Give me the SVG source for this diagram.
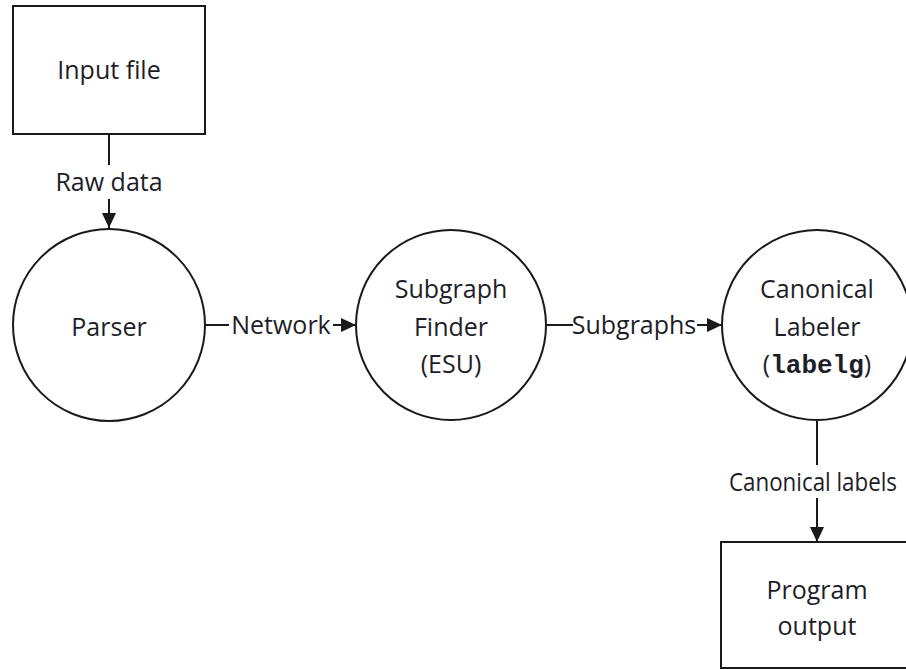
<svg xmlns="http://www.w3.org/2000/svg" width="906" height="670" viewBox="0 0 906 670">
<style>
.shape{fill:#fff;stroke:#1a1a1a;stroke-width:2}
.t{font-family:"Open Sans","Liberation Sans",sans-serif;font-size:25px;fill:#1e1e28;text-anchor:middle}
.mono{font-family:"Liberation Mono","DejaVu Sans Mono",monospace;font-weight:bold;font-size:26px}
.edge{stroke:#1a1a1a;stroke-width:2;fill:none}
</style>
<defs>
<marker id="arrow" markerUnits="userSpaceOnUse" markerWidth="15" markerHeight="14" refX="15" refY="7" orient="auto">
<path d="M0,0 L15,7 L0,14 z" fill="#1a1a1a"/>
</marker>
</defs>
<rect width="906" height="670" fill="#fff"/>
<g id="connectors">
<g id="e-input-parser">
<line class="edge" x1="109" y1="134" x2="109" y2="165"/>
<text class="t" x="109" y="191">Raw data</text>
<line class="edge" x1="109" y1="199" x2="109" y2="228" marker-end="url(#arrow)"/>
</g>
<g id="e-parser-finder">
<line class="edge" x1="205" y1="325" x2="229" y2="325"/>
<text class="t" x="281" y="334">Network</text>
<line class="edge" x1="333" y1="325" x2="356" y2="325" marker-end="url(#arrow)"/>
</g>
<g id="e-finder-labeler">
<line class="edge" x1="546" y1="325" x2="573" y2="325"/>
<text class="t" x="634" y="334">Subgraphs</text>
<line class="edge" x1="697" y1="325" x2="722" y2="325" marker-end="url(#arrow)"/>
</g>
<g id="e-labeler-output">
<line class="edge" x1="817" y1="420" x2="817" y2="465"/>
<text class="t" x="813" y="491" font-size="23" textLength="168" lengthAdjust="spacingAndGlyphs">Canonical labels</text>
<line class="edge" x1="817" y1="498" x2="817" y2="542" marker-end="url(#arrow)"/>
</g>
</g>
<g id="input">
<rect class="shape" x="13" y="6" width="192" height="128"/>
<text class="t" x="109" y="79">Input file</text>
</g>
<g id="parser">
<circle class="shape" cx="109" cy="325" r="96"/>
<text class="t" x="109" y="336">Parser</text>
</g>
<g id="finder">
<circle class="shape" cx="451" cy="325" r="95"/>
<text class="t" x="451" y="298">Subgraph</text>
<text class="t" x="451" y="336">Finder</text>
<text class="t" x="451" y="373">(ESU)</text>
</g>
<g id="labeler">
<circle class="shape" cx="817" cy="325" r="95"/>
<text class="t" x="817" y="298">Canonical</text>
<text class="t" x="817" y="336">Labeler</text>
<text class="t" x="817" y="373">(<tspan class="mono">labelg</tspan>)</text>
</g>
<g id="output">
<rect class="shape" x="721" y="542" width="200" height="126"/>
<text class="t" x="817" y="599">Program</text>
<text class="t" x="817" y="635">output</text>
</g>
</svg>
